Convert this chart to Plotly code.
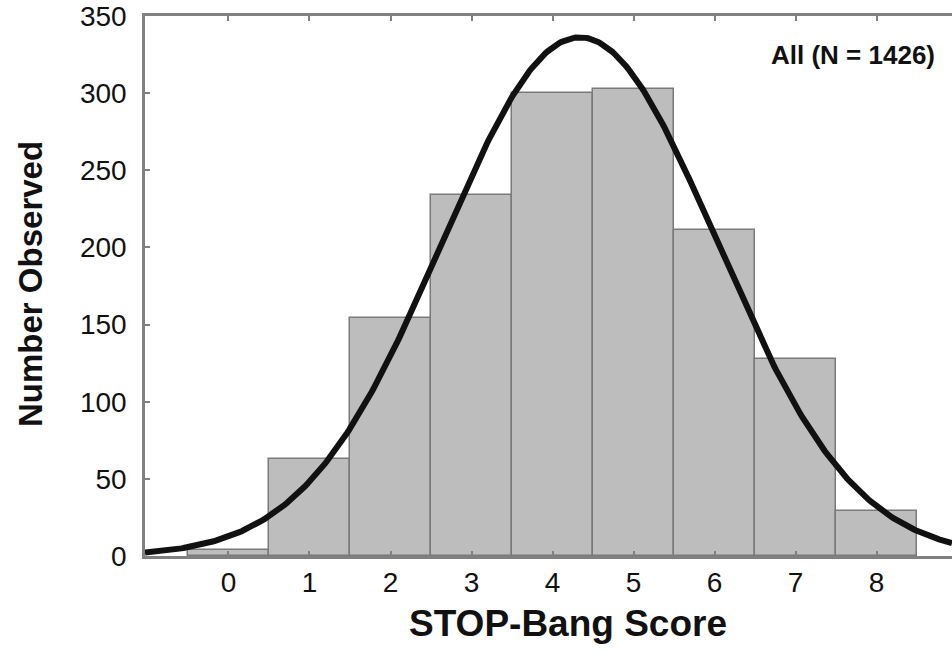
import numpy as np
import plotly.graph_objects as go

scores = [0, 1, 2, 3, 4, 5, 6, 7, 8]
counts = [4, 63, 154, 234, 300, 303, 211, 128, 29]
y_ticks = [0, 50, 100, 150, 200, 250, 300, 350]
label_text = "All (N = 1426)"
x_title = "STOP-Bang Score"
y_title = "Number Observed"

# fitted normal curve from the observed counts
s = np.array(scores, float)
c = np.array(counts, float)
n = c.sum()
mu = (s * c).sum() / n
sd = np.sqrt(((s - mu) ** 2 * c).sum() / n)
xr = [-1.03, 8.93]
xc = np.linspace(xr[0], xr[1], 400)
yc = n / (sd * np.sqrt(2 * np.pi)) * np.exp(-0.5 * ((xc - mu) / sd) ** 2)

FONT = "Liberation Sans, Arial, sans-serif"

fig = go.Figure()
fig.add_trace(go.Bar(x=scores, y=counts, width=1.0,
                     marker=dict(color="#bdbdbd", line=dict(color="#7a7a7a", width=1.5)),
                     showlegend=False, hoverinfo="skip"))
fig.add_trace(go.Scatter(x=xc, y=yc, mode="lines",
                         line=dict(color="#111111", width=6),
                         showlegend=False, hoverinfo="skip", cliponaxis=True))

fig.update_layout(
    width=952, height=655,
    margin=dict(l=145, r=0, t=16, b=99),
    paper_bgcolor="white", plot_bgcolor="white",
    font=dict(family=FONT, color="#111111", size=28),
    bargap=0,
    annotations=[
        dict(text="<b>" + label_text + "</b>", xref="paper", yref="paper",
             x=0.981, y=0.927, xanchor="right", yanchor="middle",
             showarrow=False, font=dict(family=FONT, size=26, color="#111111")),
        dict(text="<b>" + x_title + "</b>", xref="paper", yref="paper",
             x=(568 - 145) / 807, y=-(623 - 556) / 540, xanchor="center", yanchor="middle",
             showarrow=False, font=dict(family=FONT, size=37, color="#111111")),
        dict(text="<b>" + y_title + "</b>", xref="paper", yref="paper",
             x=-(145 - 30) / 807, y=(556 - 284) / 540, xanchor="center", yanchor="middle",
             textangle=-90,
             showarrow=False, font=dict(family=FONT, size=33, color="#111111")),
    ],
)
fig.update_xaxes(range=xr, tickvals=scores, ticktext=[str(v) for v in scores],
                 ticks="inside", ticklen=5, tickwidth=1.5, tickcolor="#808080",
                 showline=True, linecolor="#808080", linewidth=2.5, mirror="ticks",
                 showgrid=False, zeroline=False, ticklabelstandoff=0,
                 tickfont=dict(size=28))
fig.update_yaxes(range=[0, 350], tickvals=y_ticks,
                 ticks="inside", ticklen=5, tickwidth=1.5, tickcolor="#808080",
                 showline=True, linecolor="#808080", linewidth=2.5,
                 showgrid=False, zeroline=False, ticklabelstandoff=10,
                 tickfont=dict(size=28))

fig.write_html("out.html")
